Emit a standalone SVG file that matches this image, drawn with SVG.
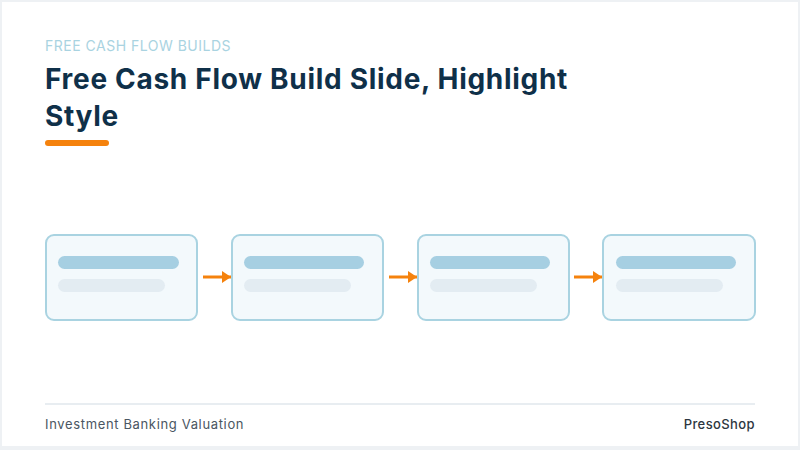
<svg xmlns="http://www.w3.org/2000/svg" width="800" height="450" viewBox="0 0 800 450">
<defs>
<style>
.node{fill:#f3f9fc;stroke:#a9d3e1;stroke-width:2}
.bar1{fill:#a6cfe2}
.bar2{fill:#e3ecf2}
.conn{stroke:#f5820d;stroke-width:3;fill:none}
.t{font-family:Inter,"Open Sans","Liberation Sans",sans-serif}
</style>
<marker id="ah" markerWidth="10" markerHeight="14" refX="9" refY="7" orient="auto" markerUnits="userSpaceOnUse">
<path d="M0,1 L9,7 L0,13 Z" fill="#f5820d"/>
</marker>
</defs>
<rect x="0" y="0" width="800" height="450" fill="#eef1f4"/>
<rect x="2" y="2" width="796" height="444" fill="#ffffff"/>
<text class="t" x="45" y="51" font-size="14" letter-spacing="0.5" fill="#a9d3e1">FREE CASH FLOW BUILDS</text>
<text class="t" x="45" y="89" font-size="28" font-weight="700" letter-spacing="0.7" fill="#0f3049">Free Cash Flow Build Slide, Highlight</text>
<text class="t" x="45" y="126" font-size="28" font-weight="700" letter-spacing="0.7" fill="#0f3049">Style</text>
<rect x="45" y="140" width="64" height="6" rx="3" fill="#f5820d"/>
<g id="connectors">
<line class="conn" x1="203" y1="277" x2="231" y2="277" marker-end="url(#ah)"/>
<line class="conn" x1="389" y1="277" x2="417" y2="277" marker-end="url(#ah)"/>
<line class="conn" x1="574" y1="277" x2="602" y2="277" marker-end="url(#ah)"/>
</g>
<g id="node1">
<rect class="node" x="46" y="235" width="151" height="85" rx="8"/>
<rect class="bar1" x="58" y="256" width="121" height="13" rx="6.5"/>
<rect class="bar2" x="58" y="279" width="107" height="13" rx="6.5"/>
</g>
<g id="node2">
<rect class="node" x="232" y="235" width="151" height="85" rx="8"/>
<rect class="bar1" x="244" y="256" width="120" height="13" rx="6.5"/>
<rect class="bar2" x="244" y="279" width="107" height="13" rx="6.5"/>
</g>
<g id="node3">
<rect class="node" x="418" y="235" width="151" height="85" rx="8"/>
<rect class="bar1" x="430" y="256" width="120" height="13" rx="6.5"/>
<rect class="bar2" x="430" y="279" width="107" height="13" rx="6.5"/>
</g>
<g id="node4">
<rect class="node" x="603" y="235" width="152" height="85" rx="8"/>
<rect class="bar1" x="616" y="256" width="120" height="13" rx="6.5"/>
<rect class="bar2" x="616" y="279" width="107" height="13" rx="6.5"/>
</g>
<line x1="45" y1="404" x2="755" y2="404" stroke="#e8edf1" stroke-width="2"/>
<text class="t" x="45" y="429" font-size="13" letter-spacing="0.65" fill="#4a5662">Investment Banking Valuation</text>
<text class="t" x="755" y="429" font-size="13" font-weight="500" letter-spacing="0.4" fill="#2d3640" text-anchor="end">PresoShop</text>
</svg>
